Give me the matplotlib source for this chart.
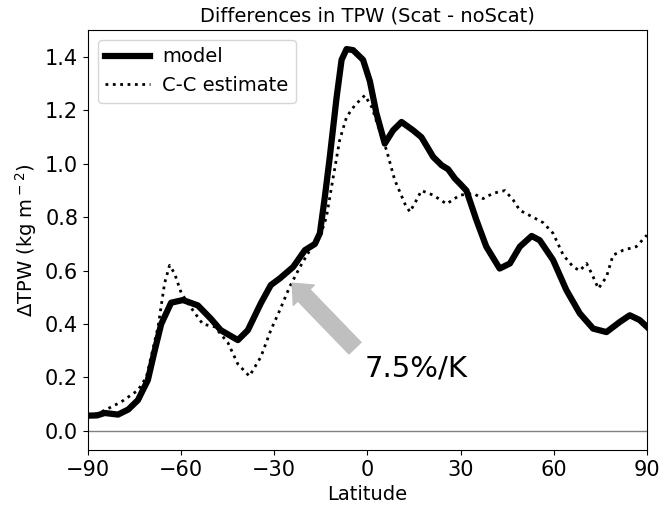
import numpy as np
import matplotlib.pyplot as plt

# zonal mean TPW difference, model run vs Clausius-Clapeyron scaling
lat_model = [-90, -87, -84.6, -80.3, -77, -73.9, -70.7, -68.5, -66.4, -63.2, -59.4, -54.6,
             -50.4, -47.2, -41.7, -38.5, -34.3, -31.1, -28.2, -25.6, -23.9, -20.1, -16.9,
             -15.3, -13.7, -12.1, -9.9, -8.3, -6.7, -4.6, -1.4, 0.8, 2.9, 5.6, 8.3, 11.0,
             14.7, 17.4, 21.2, 23.9, 26.0, 28.2, 29.8, 31.9, 35.1, 38.3, 42.6, 45.9, 49.1,
             52.9, 55.5, 59.8, 64.1, 68.4, 72.7, 77.0, 81.3, 84.5, 87.7, 90]
dtpw_model = [0.057, 0.058, 0.067, 0.061, 0.08, 0.115, 0.19, 0.30, 0.40, 0.48, 0.49, 0.47,
              0.42, 0.377, 0.34, 0.377, 0.478, 0.546, 0.571, 0.597, 0.614, 0.677, 0.70,
              0.74, 0.876, 1.026, 1.25, 1.39, 1.43, 1.426, 1.39, 1.31, 1.19, 1.076, 1.126,
              1.157, 1.126, 1.10, 1.026, 0.995, 0.98, 0.945, 0.926, 0.90, 0.79, 0.69, 0.608,
              0.627, 0.69, 0.73, 0.714, 0.64, 0.527, 0.44, 0.383, 0.37, 0.408, 0.433, 0.415,
              0.39]

lat_cc = [-90, -87, -84.6, -79.2, -73.9, -71.2, -67.4, -65.3, -63.7, -62.1, -59.9, -56.7,
          -53.0, -49.2, -44.9, -41.7, -38.0, -34.3, -31.1, -28.2, -25.0, -21.7, -18.5,
          -15.3, -13.2, -11.0, -8.9, -6.7, -4.0, -0.8, 1.4, 3.5, 6.2, 8.8, 12.1, 13.7,
          15.8, 17.4, 21.2, 25.5, 29.8, 34.1, 37.3, 40.5, 44.3, 47.0, 49.1, 53.4, 56.6,
          59.8, 63.1, 66.3, 68.4, 70.6, 72.2, 74.4, 77.0, 79.1, 82.4, 86.6, 90]
dtpw_cc = [0.055, 0.065, 0.077, 0.109, 0.152, 0.2, 0.39, 0.553, 0.62, 0.59, 0.515, 0.46,
           0.40, 0.39, 0.33, 0.25, 0.205, 0.277, 0.377, 0.452, 0.54, 0.614, 0.677, 0.727,
           0.80, 0.95, 1.09, 1.176, 1.22, 1.257, 1.213, 1.14, 1.05, 0.94, 0.85, 0.82, 0.864,
           0.90, 0.883, 0.85, 0.883, 0.889, 0.87, 0.89, 0.90, 0.864, 0.826, 0.80, 0.78, 0.74,
           0.658, 0.614, 0.60, 0.627, 0.59, 0.533, 0.577, 0.658, 0.677, 0.69, 0.733]

xticks = [-90, -60, -30, 0, 30, 60, 90]

fig = plt.figure(figsize=(6.71, 5.05), dpi=100)
ax = fig.add_axes([0.131, 0.109, 0.833, 0.8316])

ax.axhline(0, color='0.5', lw=1)
ax.plot(lat_model, dtpw_model, 'k-', lw=4.5, label='model')
ax.plot(lat_cc, dtpw_cc, 'k:', lw=2, label='C-C estimate')

# arrow pointing at the C-C curve
ax.annotate('', xy=(-24.2, 0.553), xytext=(-4.0, 0.31),
            arrowprops=dict(facecolor='0.75', edgecolor='0.75', width=12,
                            headwidth=21, headlength=12, shrink=0))
ax.text(-0.8, 0.205, '7.5%/K', fontsize=21)

ax.set_xlim(-90, 90)
ax.set_ylim(-0.0715, 1.5015)
ax.set_xticks(xticks)
ax.tick_params(labelsize=15)
ax.set_xlabel('Latitude', fontsize=14)
ax.set_ylabel(r'$\Delta$TPW (kg m$^-$$^2$)', fontsize=14)
ax.set_title('Differences in TPW (Scat - noScat)', fontsize=14)
ax.legend(loc='upper left', fontsize=14, handlelength=2.3, handletextpad=0.6)

fig.savefig('out.png', dpi=100)
